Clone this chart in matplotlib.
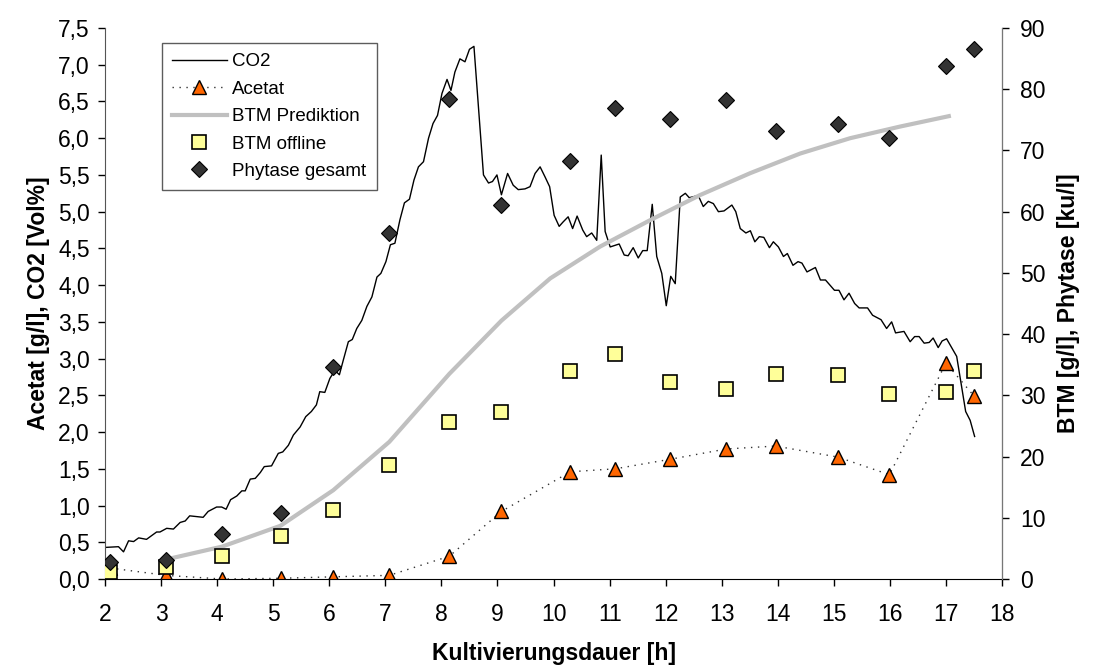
import numpy as np
import matplotlib.pyplot as plt
from matplotlib.ticker import FuncFormatter

plt.rcParams['font.family'] = ['Liberation Sans', 'DejaVu Sans']

# ---------------------------------------------------------------------------
# DATA
# ---------------------------------------------------------------------------

# sampling times of offline samples (h)
t_samples = [2.09, 3.09, 4.09, 5.13, 6.07, 7.07, 8.14, 9.07, 10.30, 11.10,
             12.08, 13.08, 13.96, 15.07, 15.99, 17.00, 17.50]

acetat = [0.15, 0.05, 0.00, 0.01, 0.03, 0.05, 0.31, 0.92, 1.46, 1.50,
          1.63, 1.77, 1.81, 1.66, 1.42, 2.94, 2.49]                    # g/l
btm_offline = [1.2, 2.0, 3.7, 7.0, 11.2, 18.6, 25.6, 27.3, 33.9, 36.7,
               32.1, 31.1, 33.5, 33.3, 30.3, 30.5, 33.9]               # g/l
phytase = [2.8, 3.1, 7.3, 10.8, 34.7, 56.5, 78.4, 61.1, 68.3, 77.0,
           75.1, 78.2, 73.1, 74.4, 72.1, 83.8, 86.5]                   # ku/l

# BTM prediction (soft sensor)
t_pred = [3.09, 4.09, 5.13, 6.07, 7.07, 8.14, 9.07, 9.94, 10.83, 11.72,
          12.61, 13.51, 14.40, 15.29, 16.18, 17.05]
btm_pred = [3.2, 5.3, 8.7, 14.5, 22.4, 33.5, 42.2, 49.1, 54.3, 58.6,
            62.7, 66.3, 69.5, 72.0, 73.9, 75.6]

# online CO2 in off-gas (Vol%)
t_co2 = [2.00, 2.24, 2.33, 2.42, 2.51, 2.60, 2.74, 2.92, 2.98, 3.10, 3.22,
         3.34, 3.43, 3.51, 3.75, 3.84, 3.99, 4.08, 4.16, 4.24, 4.35, 4.44,
         4.50, 4.59, 4.68, 4.77, 4.84, 4.97, 5.09, 5.17, 5.27, 5.36, 5.48,
         5.58, 5.68, 5.77, 5.83, 5.92, 6.01, 6.10, 6.18, 6.25, 6.34, 6.41,
         6.49, 6.58, 6.67, 6.76, 6.85, 6.92, 7.01, 7.09, 7.17, 7.26, 7.34,
         7.43, 7.51, 7.59, 7.68, 7.77, 7.85, 7.93, 8.01, 8.10, 8.17, 8.24,
         8.33, 8.42, 8.50, 8.58, 8.75, 8.84, 8.91, 8.99, 9.07, 9.18, 9.28,
         9.37, 9.49, 9.58, 9.67, 9.76, 9.85, 9.93, 10.01, 10.10, 10.17,
         10.26, 10.34, 10.42, 10.52, 10.59, 10.68, 10.77, 10.85, 10.92,
         11.01, 11.17, 11.26, 11.33, 11.42, 11.51, 11.59, 11.67, 11.76,
         11.84, 11.93, 12.01, 12.09, 12.17, 12.26, 12.35, 12.42, 12.58,
         12.67, 12.76, 12.85, 12.94, 13.04, 13.18, 13.25, 13.33, 13.43,
         13.51, 13.59, 13.67, 13.75, 13.85, 13.92, 14.01, 14.10, 14.17,
         14.27, 14.36, 14.43, 14.52, 14.67, 14.76, 14.85, 15.01, 15.09,
         15.18, 15.27, 15.37, 15.45, 15.60, 15.69, 15.84, 15.94, 16.03,
         16.10, 16.25, 16.36, 16.44, 16.52, 16.61, 16.70, 16.77, 16.86,
         16.93, 17.01, 17.19, 17.35, 17.43, 17.51]
co2 = [0.43, 0.44, 0.37, 0.52, 0.51, 0.56, 0.54, 0.64, 0.64, 0.69, 0.68,
       0.77, 0.79, 0.86, 0.84, 0.92, 0.98, 0.98, 0.95, 1.08, 1.13, 1.20,
       1.20, 1.36, 1.37, 1.45, 1.53, 1.54, 1.71, 1.73, 1.82, 1.96, 2.07,
       2.21, 2.28, 2.37, 2.55, 2.54, 2.73, 2.84, 2.78, 2.98, 3.23, 3.26,
       3.41, 3.52, 3.71, 3.84, 4.11, 4.16, 4.32, 4.55, 4.57, 4.89, 5.12,
       5.17, 5.43, 5.61, 5.68, 6.00, 6.20, 6.31, 6.61, 6.80, 6.65, 6.90,
       7.08, 7.04, 7.21, 7.25, 5.50, 5.39, 5.41, 5.50, 5.23, 5.52, 5.36,
       5.30, 5.31, 5.34, 5.52, 5.61, 5.47, 5.34, 4.95, 4.80, 4.86, 4.93,
       4.77, 4.94, 4.75, 4.66, 4.71, 4.61, 5.77, 4.73, 4.52, 4.56, 4.41,
       4.40, 4.51, 4.37, 4.47, 4.47, 5.10, 4.39, 4.16, 3.72, 4.12, 4.02,
       5.20, 5.25, 5.19, 5.22, 5.07, 5.14, 5.11, 5.00, 5.01, 5.09, 5.00,
       4.77, 4.71, 4.74, 4.59, 4.66, 4.65, 4.51, 4.59, 4.52, 4.39, 4.43,
       4.27, 4.32, 4.30, 4.18, 4.24, 4.07, 4.07, 3.93, 3.93, 3.80, 3.89,
       3.75, 3.69, 3.69, 3.59, 3.53, 3.41, 3.50, 3.35, 3.37, 3.23, 3.30,
       3.30, 3.21, 3.22, 3.28, 3.15, 3.24, 3.27, 3.03, 2.28, 2.16, 1.94]

# ---------------------------------------------------------------------------
# PLOT
# ---------------------------------------------------------------------------

fs = 16.5
fig = plt.figure(figsize=(10.94, 6.68), dpi=100)
ax = fig.add_axes([0.096, 0.1332, 0.82, 0.8249])
ax2 = ax.twinx()

l_co2, = ax.plot(t_co2, co2, "-", color="black", lw=1.0, label="CO2")
l_ac, = ax.plot(t_samples, acetat, linestyle=(0, (1, 4)), color="#333333",
                lw=1.0, marker="^", ms=9.5, mfc="#FF6600", mec="black",
                mew=1.0, label="Acetat")

l_pred, = ax2.plot(t_pred, btm_pred, "-", color="#C0C0C0", lw=3.0,
                   label="BTM Prediktion", zorder=1)
l_btm, = ax2.plot(t_samples, btm_offline, "s", ms=9.5, mfc="#FFFF99",
                  mec="black", mew=1.2, label="BTM offline", zorder=2)
l_ph, = ax2.plot(t_samples, phytase, "D", ms=8.5, mfc="#333333",
                 mec="black", mew=0.8, label="Phytase gesamt", zorder=3)

ax.set_xlim(2, 18)
ax.set_ylim(0, 7.5)
ax2.set_ylim(0, 90)
ax.set_xticks(range(2, 19))
ax.set_yticks(np.arange(0, 7.51, 0.5))
ax2.set_yticks(range(0, 91, 10))
ax.yaxis.set_major_formatter(FuncFormatter(lambda v, p: f"{v:.1f}".replace(".", ",")))

for a in (ax, ax2):
    a.spines["top"].set_visible(False)
    a.tick_params(labelsize=fs, length=5, width=1.0, direction="out")
ax.spines["left"].set_color("#555555")
ax2.spines["right"].set_color("#777777")
ax2.spines["left"].set_visible(False)
ax2.spines["bottom"].set_visible(False)
ax.tick_params(axis="x", pad=12)
ax.tick_params(axis="y", pad=6)
ax2.tick_params(axis="y", pad=8)

ax.set_xlabel("Kultivierungsdauer [h]", fontsize=fs, fontweight="bold", labelpad=12)
ax.set_ylabel("Acetat [g/l], CO2 [Vol%]", fontsize=fs, fontweight="bold", labelpad=6)
ax2.set_ylabel("BTM [g/l], Phytase [ku/l]", fontsize=fs, fontweight="bold", labelpad=8)

leg = ax2.legend(handles=[l_co2, l_ac, l_pred, l_btm, l_ph], loc="upper left",
                 bbox_to_anchor=(0.0635, 0.973), borderaxespad=0, fontsize=13.5,
                 frameon=True, fancybox=False, edgecolor="#333333",
                 handlelength=2.9, labelspacing=0.55, numpoints=1,
                 borderpad=0.55, handletextpad=0.3)
leg.get_frame().set_linewidth(1.0)

plt.savefig("out.png", dpi=100)
